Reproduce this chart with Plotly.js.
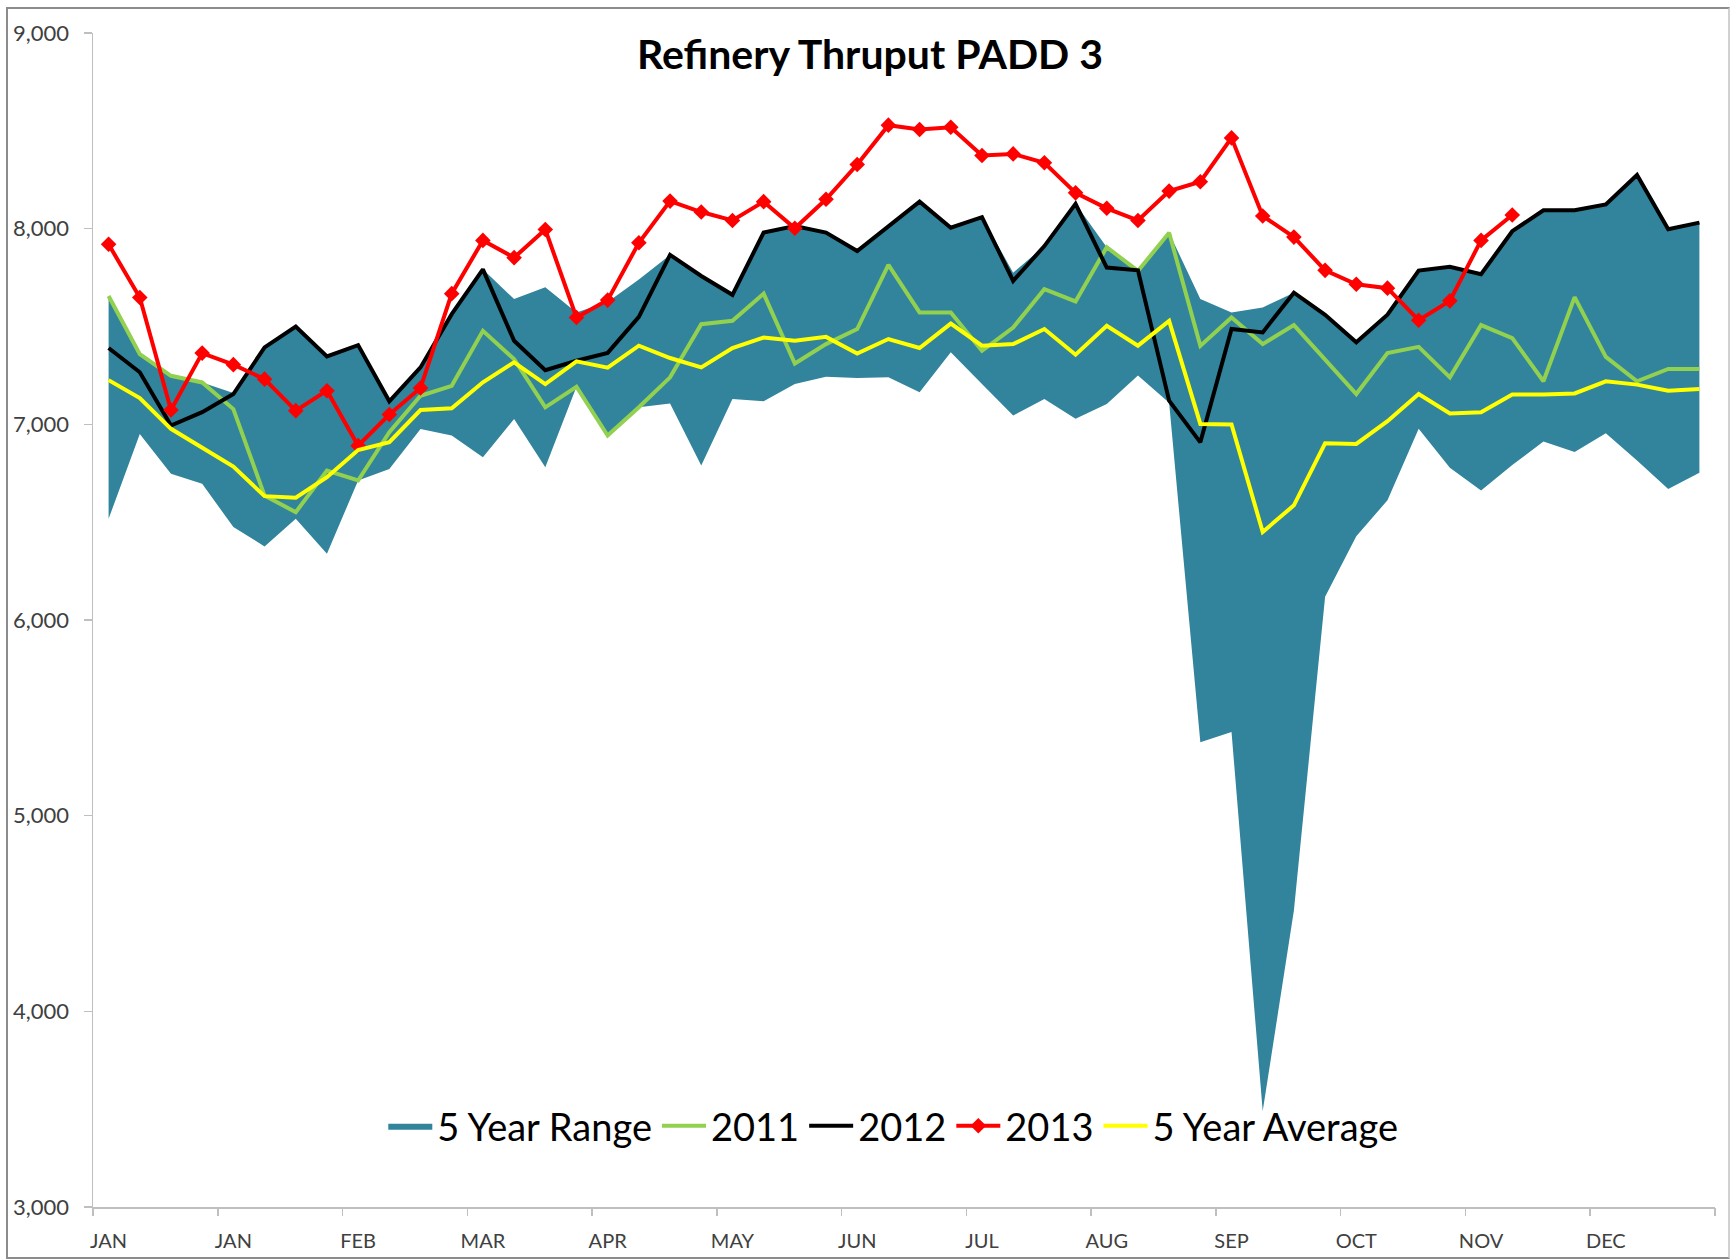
<!DOCTYPE html>
<html>
<head>
<meta charset="utf-8">
<script src="https://cdn.plot.ly/plotly-3.0.1.min.js"></script>
<style>
  html, body { margin: 0; padding: 0; background: #fff; }
  #chart { width: 1732px; height: 1259px; }
  #frame { position: absolute; left: 6px; top: 7px; width: 1720px; height: 1248px;
           border: 2px solid #8c8c8c; border-right-color: #d0d0d0; pointer-events: none; }
</style>
</head>
<body>
<div id="chart"></div>
<div id="frame"></div>
<script>
// ---- data (thousand barrels/day, weekly) ----
const weeks = [1,2,3,4,5,6,7,8,9,10,11,12,13,14,15,16,17,18,19,20,21,22,23,24,25,26,
               27,28,29,30,31,32,33,34,35,36,37,38,39,40,41,42,43,44,45,46,47,48,49,50,51,52];

const rangeMin = [6517,6951,6747,6696,6475,6376,6517,6339,6713,6772,6976,6943,6832,7027,6781,7192,
                  6943,7087,7107,6790,7130,7118,7206,7243,7237,7240,7164,7368,7206,7045,7130,7028,
                  7104,7249,7110,5375,5428,3490,4515,6119,6428,6612,6977,6778,6662,6792,6912,6858,
                  6954,6815,6670,6752];

const rangeMax = [7656,7359,7248,7214,7160,7393,7500,7347,7405,7118,7291,7563,7792,7640,7700,7572,
                  7625,7740,7866,7758,7662,7980,8014,7980,7886,8014,8138,8005,8059,7775,7911,8127,
                  7905,7790,7979,7640,7572,7597,7673,7560,7419,7560,7786,7805,7767,7987,8094,8094,
                  8124,8274,7997,8031];

const y2011 = [7656,7359,7248,7214,7078,6636,6551,6764,6713,6960,7146,7197,7478,7333,7087,7192,
               6943,7087,7240,7512,7529,7668,7311,7410,7487,7815,7572,7572,7376,7495,7691,7628,
               7905,7784,7979,7401,7546,7410,7507,7334,7155,7364,7396,7240,7507,7441,7220,7650,
               7345,7220,7283,7283];

const y2012 = [7390,7266,6994,7062,7155,7393,7500,7347,7405,7118,7291,7563,7792,7427,7277,7325,
               7365,7549,7866,7758,7662,7980,8014,7980,7886,8014,8138,8005,8059,7733,7911,8127,
               7801,7787,7121,6908,7487,7470,7673,7560,7419,7560,7786,7805,7767,7987,8094,8094,
               8124,8274,7997,8031];

const y2013 = [7920,7648,7073,7364,7305,7231,7070,7172,6891,7050,7186,7668,7940,7852,7996,7546,
               7635,7928,8141,8085,8042,8138,8002,8150,8328,8529,8507,8518,8374,8382,8337,8183,
               8104,8042,8192,8240,8464,8065,7957,7787,7716,7696,7532,7631,7940,8070];

const avg5 = [7226,7134,6977,6883,6784,6633,6625,6730,6869,6909,7073,7082,7215,7317,7206,7322,
              7290,7402,7339,7291,7390,7444,7427,7447,7362,7436,7390,7515,7402,7410,7487,7356,
              7504,7402,7529,7002,6999,6450,6586,6903,6900,7016,7155,7056,7062,7152,7152,7158,
              7220,7203,7172,7181];

const monthLabels = ['JAN','JAN','FEB','MAR','APR','MAY','JUN','JUL','AUG','SEP','OCT','NOV','DEC'];
const labelWeeks  = [1,5,9,13,17,21,25,29,33,37,41,45,49];
const boundaryWeeks = [0.5,4.5,8.5,12.5,16.5,20.5,24.5,28.5,32.5,36.5,40.5,44.5,48.5,52.5];
const yTicks = [3000,4000,5000,6000,7000,8000,9000];

const FONT = 'Lato, "Open Sans", sans-serif';
const LW = 4;

const traces = [
  { x: weeks, y: rangeMin, type: 'scatter', mode: 'lines', line: {width: 0, color: 'rgba(0,0,0,0)'},
    showlegend: false, hoverinfo: 'skip', name: 'min' },
  { x: weeks, y: rangeMax, type: 'scatter', mode: 'lines', fill: 'tonexty',
    fillcolor: '#31849B', line: {width: 0, color: '#31849B'}, name: '5 Year Range' },
  { x: weeks, y: y2011, type: 'scatter', mode: 'lines', line: {color: '#92D050', width: LW}, name: '2011' },
  { x: weeks, y: y2012, type: 'scatter', mode: 'lines', line: {color: '#000000', width: LW}, name: '2012' },
  { x: weeks.slice(0, y2013.length), y: y2013, type: 'scatter', mode: 'lines+markers',
    line: {color: '#FF0000', width: LW}, marker: {symbol: 'diamond', size: 12, color: '#FF0000'}, name: '2013' },
  { x: weeks, y: avg5, type: 'scatter', mode: 'lines', line: {color: '#FFFF00', width: LW}, name: '5 Year Average' }
];

const layout = {
  width: 1732, height: 1259,
  margin: {l: 93, r: 17, t: 33, b: 52},
  paper_bgcolor: '#ffffff', plot_bgcolor: '#ffffff',
  font: {family: FONT, color: '#404040'},
  title: {
    text: 'Refinery Thruput PADD 3',
    font: {family: FONT, size: 41, color: '#000000', weight: 'bold'},
    xref: 'container', x: 870/1732, xanchor: 'center',
    yref: 'container', y: 1 - 55/1259, yanchor: 'middle'
  },
  xaxis: {
    range: [0.5, 52.5], tickmode: 'array', tickvals: labelWeeks, ticktext: monthLabels,
    ticks: '', showgrid: false, zeroline: false, showline: true, linecolor: '#BFBFBF', linewidth: 1.5,
    tickfont: {family: FONT, size: 20, color: '#404040'}, ticklabelstandoff: 15
  },
  xaxis2: {
    overlaying: 'x', anchor: 'y', side: 'bottom', range: [0.5, 52.5], tickmode: 'array',
    tickvals: boundaryWeeks, ticktext: boundaryWeeks.map(() => ''), ticks: 'outside', ticklen: 8,
    tickcolor: '#BFBFBF', tickwidth: 1.5, showgrid: false, zeroline: false, showline: false, showticklabels: false
  },
  yaxis: {
    range: [3000, 9000], tickmode: 'array', tickvals: yTicks, tickformat: ',d',
    ticks: 'outside', ticklen: 8, tickcolor: '#BFBFBF', tickwidth: 1.5,
    showgrid: false, zeroline: false, showline: true, linecolor: '#BFBFBF', linewidth: 1.5,
    tickfont: {family: FONT, size: 22, color: '#404040'}, ticklabelstandoff: 10
  },
  legend: {
    orientation: 'h', x: 0.4934, xanchor: 'center', y: 0.069, yanchor: 'middle',
    font: {family: FONT, size: 38, color: '#000000'}, bgcolor: 'rgba(0,0,0,0)',
    itemwidth: 44, traceorder: 'normal'
  },
  showlegend: true
};

// invisible trace to activate xaxis2 ticks
traces.push({ x: [weeks[0]], y: [rangeMin[0]], xaxis: 'x2', yaxis: 'y', mode: 'markers',
  marker: {opacity: 0}, showlegend: false, hoverinfo: 'skip' });

Plotly.newPlot('chart', traces, layout, {displayModeBar: false, staticPlot: true});
</script>
</body>
</html>
